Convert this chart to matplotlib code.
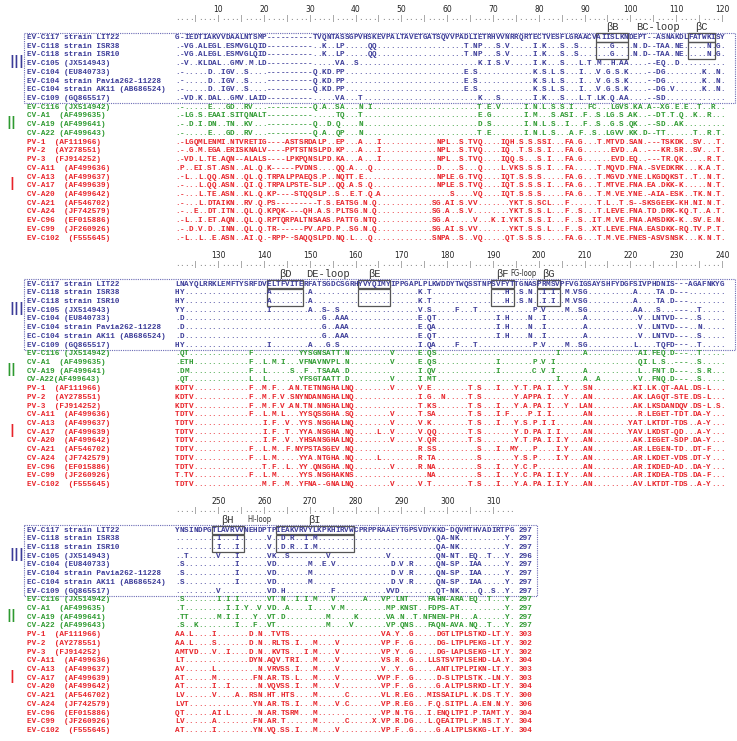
import matplotlib
matplotlib.use("Agg")
import matplotlib.pyplot as plt
from matplotlib.patches import Rectangle

# ---------------------------------------------------------------- data
names = [
    "EV-C117 strain LIT22",
    "EV-C118 strain ISR38",
    "EV-C118 strain ISR10",
    "EV-C105 (JX514943)",
    "EV-C104 (EU840733)",
    "EV-C104 strain Pavia262-11228",
    "EC-C104 strain AK11 (AB686524)",
    "EV-C109 (GQ865517)",
    "EV-C116 (JX514942)",
    "CV-A1  (AF499635)",
    "CV-A19 (AF499641)",
    "CV-A22 (AF499643)",
    "PV-1  (AF111966)",
    "PV-2  (AY278551)",
    "PV-3  (FJ914252)",
    "CV-A11  (AF499636)",
    "CV-A13  (AF499637)",
    "CV-A17  (AF499639)",
    "CV-A20  (AF499642)",
    "CV-A21  (AF546702)",
    "CV-A24  (JF742579)",
    "EV-C96  (EF015886)",
    "EV-C99  (JF260926)",
    "EV-C102  (F555645)",
]
names_block2 = names[:11] + ["CV-A22(AF499643)"] + names[12:]
groups = ["III"] * 8 + ["II"] * 4 + ["I"] * 12
group_colors = {"III": "#3b3b98", "II": "#2e9a30", "I": "#e8232a"}

# alignment, positions 1-120
block1 = [
    ("G-IEDTIAKVVDAALNTSMP" "----------" "TVQNTASSGPVHS"
     "KEVPALTAVETGATSQVVPADLIETRHVVNRRQRTECTVESFLGRAACV" "AIISLKN"
     "DEPT--ASNAKDL" "FATWKI" "SY"),
    (".-VG.ALEGL.ESMVGLQID" "----------" "..K..LP....." "QQ"
     ".........." "........." "T.NP" "..." "S.V" "....." "I.K" "..." "S" ".." "S"
     "......." "G" "...." "N.D" "--" "TAA.NE" "....." "N.G."),
    (".-VG.ALEGL.ESMVGLQID" "----------" "..K..LP....." "QQ"
     ".........." "........." "T.NP" "..." "S.V" "....." "I.K" "..." "S" ".." "S"
     "......." "G" "...." "N.D" "--" "TAA.NE" "....." "N.G."),
    (".-V..KLDAL..GMV.M.LD" "----------" ".....VA..S.."
     ".........." ".........." "...." "K.I.S.V" "....." "I.K" "..." "S" "..."
     "L.T.M..H.AA" "...." "--" "EQ..D" ".........."),
    (".-.....D..IGV..S...." "----------" "Q.KD.PP....."
     ".........." ".........." "." "E.S" ".........." ".." "K.S.L.S" "..." "I" "..."
     "V.G.S.K" "...." "--" "DG" "........" "K" ".." "N" "."),
    (".-.....D..IGV..S...." "----------" "Q.KD.PP....."
     ".........." ".........." "." "E.S" ".........." ".." "K.S.L.S" "..." "I" "..."
     "V.G.S.K" "...." "--" "DG" "........" "K" ".." "N" "."),
    (".-.....D..IGV..S...." "----------" "Q.KD.PP....."
     ".........." ".........." "." "E.S" ".........." ".." "K.S.L.S" "..." "I" "..."
     "V.G.S.K" "...." "--" "DG.V" "......" "K" ".." "N" "."),
    (".-VD.K.DAL..GMV.LAID" "----------" ".....VA...T."
     ".........." ".........." "...." "K...S" "......." "I.K" "..." "S" "..."
     "L.T.LK.Q.AA" "...." "--" "SD" ".........." "..."),
    (".-.....E...GD..RV..." "----------" "Q.A..SA...N." "I"
     ".........." ".........." "..." "T.E.V" "....." "I.N.L.S.S.I" "..." "FC" "..."
     "LGVS.KA.A" "--" "XG" ".E.E" ".." "T" ".." "R" ".."),
    (".-LG.S.EAAI.SITQNALT" "----------" ".....TQ...T."
     ".........." ".........." "...." "E.G" "......." "I.M" "..." "S.ASI" ".." "F" ".." "S" "."
     "LG.S.AK.." "--" "DT.T.Q" ".." "K" ".." "R" "..."),
    (".-.D.I.DN..TN..KV..." "----------" "Q..D.Q....N."
     ".........." ".........." "...." "D.S" "......." "I.N.L.S" ".." "I" "..." "F" ".." "S" ".."
     "G.S.QK.." "--" "SD" ".." "AK" "........."),
    (".-.....E...GD..RV..." "----------" "Q.A..QP...N."
     ".........." ".........." "...." "T.E" "......." "I.N.L.S" "..." "A" "." "F" ".." "S" ".."
     "LGVV.KK.D" "--" "TT" "......" "T" ".." "R" "." "T" "."),
    (".-LGQMLENMI.NTVRETIG" "----" "ASTSRDALP" ".." "EP" "..." "A" "."
     ".." "I" ".........." ".." "NPL" ".." "S.TVQ" "...." "IQH.S.S.SSI" "..." "FA.G" "..."
     "T.MTVD.SAN." "---" "TSKDK" ".." "SV" "..." "T" "."),
    (".-.G.M.EGA.ERISKNALV" "----" "PPTSTNSLPD" "." "KP" "..." "A" "."
     ".." "I" ".........." ".." "NPL" ".." "S.TVQ" "...." "IQ..T.S.S.I" "..." "FA.G" "......"
     "EVD" ".." "A" ".." "---" "KR.SR" ".." "SV" "..." "T" "."),
    (".-VD.L.TE.AQN--ALALS" "----" "LPKPQNSLPD" "." "KA" "..." "A" "."
     ".." "I" ".........." ".." "NPL" ".." "S.TVQ" "...." "IQQ.S...S.I" "..." "FA.G" "......"
     "EVD" "." "EQ" ".." "---" "TR.QK" "....." "R" "." "T" "."),
    (".P..EI.ST.ASN..AL.Q." "K" "-----" "PVDNS" "...." "QQ" "." "A" "..."
     "Q" ".........." "...." "D" "...." "S" "..." "Q" "...." "L.VKS.S.S.I" "..." "FA" "....."
     "T.MQVD.FNA." "-SVEDKRK" "..." "K" "." "A" "." "T" "."),
    (".-L..L.QQ.ASN..QL.Q." "TRPALPPAEQS" "." "P" ".." "NQTT" "." "E" "."
     ".........." "....." "NPLE.G.TVQ" "...." "IQT.S.S.S.." "..." "FA.G" "..."
     "T.MGVD.YNE." "LKGDQKST" ".." "T" ".." "N" "." "T" "."),
    (".-...L.QQ.ASN..QI.Q." "TRPALPSTE-SLP" ".." "QQ" "." "A" "." "S" "."
     "Q" ".........." "...." "NPLE.S.TVQ" "...." "IQT.S.S.S.I" "..." "FA.G" "..."
     "T.MTVE.FNA." "EA.DKK-K" "....." "N" "." "T" "."),
    (".-...L.TE.ASN..KL.Q." "KP----STQQSLP" ".." "S" ".." "E" "." "T" "."
     "Q" "." "A" ".........." "....." "S" "...." "VQ" "...." "IQT.S.S.S.." "..." "FA.G" "..."
     "T.M.VE.YNE." "-AIA-ESK" ".." "TK" "." "N" "." "T" "."),
    (".-...L.DTAIKN..RV.Q." "PS" "---------" "T" "." "S" "." "EATSG" "." "N"
     "." "Q" ".........." ".." "SG.AI.S.VV" "......." "YKT.S.SCL" "..." "F" "......"
     "T.L..T.S--SKSGEEK-KH.NI.N.T."),
    (".-..E..DT.ITN..QL.Q." "KPQK" "----" "QH" "." "A" "." "S" "." "PLTSG" "." "N"
     "." "Q" ".........." ".." "SG.A..S.V." "......." "YKT.S.S.L" "..." "F" ".." "S" "..."
     "T.LEVE.FNA.TD.DRK-KQ.T..A.T."),
    (".-L..I.ET.AQN..QL.Q." "RPTQRPALTNSAAS" "." "PATTG" "." "N"
     "TQ" ".........." ".." "SG.A" "....." "V" "..." "K.I.YKT.S.S.I" "..." "F" ".." "S" ".."
     "IT.M.VE.FNA.AMSDKK-K..SV.E.N."),
    (".-.D.V.D..INN..QL.Q." "TR" "------" "PV" "." "APD" "." "P" ".." "SG" "." "N"
     "." "Q" ".........." ".." "SG.AI.S.VV" "......." "YKT.S.S.L" "..." "F" ".." "S" ".."
     "XT.LEVE.FNA.EASDKK-RQ.TV.P.T."),
    (".-L..L..E.ASN..AI.Q." "-RPP--SAQQSLPD" "." "NQ" "." "L" "..."
     "Q" ".........." "..." "SNPA" ".." "S" ".." "VQ" "....." "QT.S.S.S" "....." "FA.G" "..."
     "T.M.VE.FNES-ASVSNSK...K.N.T."),
]

# alignment, positions 121-240
block2 = [
    ("LNAYQLRRKLEMFTYSRFDV" "ELTFVITE" "RFATSGDCSGRH" "YVYQIMY"
     "IPPGAPLPLKWDDYTWQSSTNP" "SVFYT" "TGNAS" "PRMSV"
     "PFVGIGSAYSHFYDGFSIVPHDNIS" "---" "AGAFNKYG"),
    ("HY" ".........." "........" "A" "........" "A" ".........." ".........." "..." "K.T"
     ".........." "......" "H" ".." "S.N" ".." "I.I" ".." "M.VSG" ".........." "A" "...."
     "TA.D" "---" "........"),
    ("HY" ".........." "........" "A" "........" "A" ".........." ".........." "..." "K.T"
     ".........." "......" "H" ".." "S.N" ".." "I.I" ".." "M.VSG" ".........." "A" "...."
     "TA.D" "---" "........"),
    ("YY" ".........." "........" "I" "........" "A..S-.S" ".........." "......." "V.S" "....."
     "F" "..." "T" ".........." ".." "P.V" "...." "M.." "SG" ".........." "AA" "..." "S" "..."
     "---" ".." "T" "....."),
    (".D" ".........." ".........." ".........." "G" ".." "AAA" ".........." "....." "E.QT"
     ".........." "..." "I.H" "...." "N" ".." "I" "........" "A" ".........." "." "V" ".."
     "LNTVD" "---" ".." "S" "....."),
    (".D" ".........." ".........." ".........." "G" ".." "AAA" ".........." "....." "E.QA"
     ".........." "..." "I.H" "...." "N" ".." "I" "........" "A" ".........." "." "V" ".."
     "LNTVD" "---" ".." "N" "....."),
    (".D" ".........." ".........." ".........." "G" ".." "AAA" ".........." "....." "E.QT"
     ".........." "..." "I.H" "...." "N" ".." "I" "........" "A" ".........." "." "V" ".."
     "LNTVD" "---" ".." "S" "....."),
    ("HY" ".........." "........" "I" "........" "A" "..." "G" "." "S" ".........." "......."
     "I.QA" "...." "F" "..." "T" ".........." ".." "P.V" "...." "M.." "SG" ".........." "L"
     "...." "TQFD" "---" ".." "T" "....."),
    (".QT" ".........." "..." "F" ".........." "YYSGNSATT" "." "N" "........." "V" "....."
     "E.QS" ".........." ".........." "......" "I" "....." "A" ".........." "."
     "AI.FEQ.D" "---" ".." "T" "....."),
    (".ETH" ".........." ".." "F" ".." "L.M.I" "..." "VFNAVNVPL" "." "N" "........." "V" "....."
     "E.QS" ".........." "..." "I" "......." "P.V.I" ".........." "........" "QI.L.S.."
     "---" ".." "S" "....."),
    (".DM" ".........." "..." "F" ".." "L" "....." "S" ".." "F" ".." "TSAAA" "." "D"
     ".........." "....." "I.QV" ".........." "..." "I" "......." "C.V.I" "......" "A"
     ".........." "." "L" ".." "FNT.D" "---" ".." "S" "." "R" "..."),
    (".QT" ".........." "..." "L" ".." "L" "......." "YFSGTAATT" "." "D" "........." "V" "....."
     "I.MT" ".........." ".........." "......" "I" "....." "A" ".." "A" "........" "V" ".."
     "FNQ.D" "---" ".." "S" "....."),
    ("KDTV" ".........." ".." "F" ".." "M.F" "..." "AN.TETNNGHALNQ" ".."
     "......" "V" "....." "V.E" "........" "T.S" "..." "I" "..." "Y.T.PA.I" "..." "Y" "..."
     "SN" "........." "KI" "." "LK.QT-AAL.DS-L" "..."),
    ("KDTV" ".........." ".." "F" ".." "M.F" "." "V.SNYNDANNGHALNQ" ".."
     ".........." ".." "I.G" ".." "N" "....." "T.S" "......." "Y.APPA.I" "..." "Y" "..."
     "AN" "........." "AK" "." "LAGQT-STE.DS-L" "..."),
    ("KDTV" ".........." ".." "F" ".." "M.F" "." "V.AN.TN.NNGHALNQ" ".."
     ".........." ".." "T.KS" "......." "T.S" "..." "I" "..." "Y.A.PA.I" "..." "Y" ".."
     "LAN" "........." "AK" "." "LKSDANDQV.DS-L" "." "S" "."),
    ("TDTV" ".........." ".." "F" ".." "L.M" "." "L" "..." "YYSQSSGHA.SQ" ".."
     "......" "V" "....." "T.SA" "......." "T.S" "..." "I.F" "...." "P" "." "I" "." "I"
     "......." "AN" ".........." "R" "." "LEGET-TDT.DA-Y" "..."),
    ("TDTV" ".........." "....." "I.F" ".." "V" ".." "YYS.NSGHALNQ" ".."
     "......" "V" "....." "V.K" "........" "T.S" "..." "I" "..." "Y.S.P.I.I" "......"
     "AN" "........" "YAT" "." "LKTDT-TDS..A-Y" "..."),
    ("TDTV" ".........." "....." "I.F" ".." "T" ".." "YYA.NSGHA.NQ" ".."
     "..." "L" ".." "V" "....." "V.QQ" "......." "T.S" "......." "Y.D.PA.I.I" "....."
     "AN" "........" "YAV" "." "LKDST-QD...A-Y" "..."),
    ("TDTV" ".........." "....." "I.F" ".." "V" ".." "YHSANSGHALNQ" ".."
     "......" "V" "....." "V.QR" "......." "T.S" "......." "Y.T.PA.I.I.Y" "..."
     "AN" "........." "AK" "." "IEGET-SDP.DA-Y" "..."),
    ("TDTV" ".........." ".." "F" ".." "L.M" ".." "F" "." "NYPSTASGEV.NQ" ".."
     ".........." ".." "R.SS" "........." "S" "..." "I" ".." "MY" "..." "P" "...." "I" "."
     "Y" "..." "AN" "........." "AR" "." "LEGEN-TD..DT-F" "..."),
    ("TDTV" ".........." ".." "F" ".." "L.M" "....." "YYA.NTGHA.NQ" ".."
     "..." "L" "........" "R.TA" "........." "S" "......." "Y.S.P" "...." "I" "." "Y" "..."
     "AN" "........." "AR" "." "LKDET-VDS.DT-Y" "..."),
    ("TDTV" ".........." "....." "T.F" ".." "L" ".." "YY.QNSGHA.NQ" ".."
     "......" "V" "....." "R.NA" "........." "S" "..." "I" "..." "Y.C.P" ".........."
     "AN" "........." "AR" "." "IKDED-AD..DA-Y" "..."),
    ("T.TV" ".........." ".." "F" ".." "L.M" "....." "YYS.NSGHAKNS" ".."
     ".........." "...." "NA" "........." "S" "..." "I" "..." "Y.C.PA.I.I.Y" "..."
     "AN" "........." "AR" "." "IKDEA-TDS.DA-F" "..."),
    ("TDTV" ".........." "....." "M.F" ".." "M" ".." "YFNA--GNALNQ" ".."
     "......" "V" "....." "V.T" "........" "T.S" "..." "I" "..." "Y.A.PA.I.I.Y" "..."
     "AN" "........." "AV" "." "LKTDT-TDS..A-Y" "..."),
]

# alignment, positions 241-314
block3 = [
    ("YNSINDPG" "TLAVRVV" "NEHDPTP" "IEAKVRVYLKPKHIRVW" "CPRPPRAAEYTGPSVDYKKD" "-DQVMTHVADIRTPG"),
    (".........I" "..." "I" "......" "V" ".." "D.R..I.M" ".........." ".........." "......"
     "QA-NK" ".........." "Y."),
    (".........I" "..." "I" "......" "V" ".." "D.R..I.M" ".........." ".........." "......"
     "QA-NK" ".........." "Y."),
    (".." "T" "......" "V" "..." "I" "......" "VK" ".." "S" "........" "V" ".........." ".."
     "V" ".........." "QN-NT..EQ..T" "..." "Y."),
    (".S" ".........." "." "I" "......" "VD" "......." "M" ".." "E" "." "V" ".........." ".."
     "D.V.R" "....." "QN-SP..IAA" "....." "Y."),
    (".S" ".........." "." "I" "......" "VD" "......." "M" ".........." "......."
     "D.V.R" "....." "QN-SP..IAA" "....." "Y."),
    (".S" ".........." "." "I" "......" "VD" "......." "M" ".........." "......."
     "D.V.R" "....." "QN-SP..IAA" "....." "Y."),
    ("........." "V" ".........." "VD.H" ".........." "F" ".........." "." "VVD" "........"
     "QT-NK" "...." "Q" ".." "S" ".." "Y."),
    (".S" "......." "I.I.I" "......" "VT.N" ".." "I.I.M" "..." "V" "......" "A" "..."
     "VP.LNT" "...." "FAHN-ARA.EQ..T" "..." "Y."),
    (".T" "........." "I.I" "." "Y" ".." "V.VD" ".." "A" "...." "I" "...." "V.M" "........."
     "MP.KNST" ".." "FDPS-AT" ".........." "Y."),
    (".TT" "......" "M.I.I" "..." "Y" ".." "VT.D" "........." "M" "....." "K" "......"
     "VA.N..T." "NFNEN-PH" "..." "A" "......" "Y."),
    (".S.." "K" "........" "I" "..." "F" ".." "VT" ".........." "." "M" "...." "V" "......."
     "VP.QNS" "..." "FAQN-AVA.NQ..T" "..." "Y."),
    ("AA.L" "...." "I" "......." "D.N..TVTS" ".........." ".........." "VA.Y" ".." "G" "....."
     "DGTLTPLSTKD-LT" "." "Y."),
    ("AA.L" "...." "S" "......." "D.N..RLTS.I" "..." "M" "...." "V" "........." "VP.F..G" "....."
     "DG-LTPLPEKG-LT" "." "Y."),
    ("AMTVD" "..." "V" ".." "I" "...." "D.N..KVTS" "..." "I" "." "M" "...." "V" "........."
     "VP.Y..G" "....." "DG-LAPLSEKG-LT" "." "Y."),
    ("LT" ".........." "...." "DYN.AQV.TRI" "..." "M" "...." "V" "........." "VS.R..G" "..."
     "LLSTSVTPLSEHD-LA" "." "Y."),
    ("AV" "......" "L" "........." "N.VRVSS.I" "..." "M" "...." "V" "........." "V..Y..G" "....."
     "ANTLTPLPIKN-LT" "." "Y."),
    ("AT" "......" "M" "........" "FN.AR.TS.L" "..." "M" "...." "V" "........" "VVP.F..G" "....."
     "D-SLTPLSTK.-LN" "." "Y."),
    ("AT" "......" "I" ".." "I" "......" "N.VQVSS.I" "..." "M" "...." "V" "........." "VP.F..G"
     "....." "G.ALTPLSRKD-LT" "." "Y."),
    ("LV" "......" "V" "...." "A" ".." "RSN.HT.HTS" "...." "M" "......" "C" "......." "VL.R.EG"
     "..." "MISSAILPL.K.DS.T" "." "Y."),
    ("LVT" ".........." "...." "YN.AR.TS.I" "..." "M" "...." "V" "." "C" "......." "VP.R.EG"
     "..." "F.Q.SITPL.A.EN.N" "." "Y."),
    ("QT" "......" "AI.L" "......" "N.AR.TSRM" "..." "M" ".........." "...." "VP.N.TG" "..."
     "I.ENQLTPI.P.TAMT" "." "Y."),
    ("LV" "......" "A" "........" "FN.AR.T" "......" "M" "......" "C" "....." "X" "." "VP.R.DG"
     "..." "L.QEAITPL.P.NS.T" "." "Y."),
    ("AT" "......" "I" "........" "YN.VQ.SS.I" "..." "M" "...." "V" "........." "VP.F..G" "....."
     "G.ALTPLSKKG-LT" "." "Y."),
]
block3_ends = [297, 297, 297, 296, 297, 297, 297, 297,
               297, 297, 297, 297,
               303, 302, 302, 304, 303, 303, 304, 300, 306, 304, 304, 304]

blocks = [block1, block2, block3]
block_names = [names, names_block2, names]
block_offsets = [0, 120, 240]
block_widths = [120, 120, 74]

# secondary structure: (block, label, first column, last column)
strands = [(0, "βB", 93, 99), (0, "βC", 113, 118),
           (1, "βD", 21, 28), (1, "βE", 41, 47), (1, "βF", 70, 74), (1, "βG", 80, 84),
           (2, "βH", 9, 15), (2, "βI", 23, 39)]
# loops: (block, label, centre column)
loops = [(0, "BC-loop", 106), (1, "DE-loop", 34), (1, "FG-loop", 76.5), (2, "HI-loop", 19)]

# ---------------------------------------------------------------- layout
MONO = "Liberation Mono"
FS = 5.5
CW = 4.58            # width of one alignment column (px)
X0 = 175             # left edge of column 1
ROW_H = 8.72
TOPS = [37.5, 284, 530]
BOX_RIGHT = [735, 735, 537]


def colx(c):
    return X0 + (c - 0.5) * CW


fig = plt.figure(figsize=(7.37, 7.41), dpi=100)
ax = fig.add_axes([0, 0, 1, 1])
ax.set_xlim(0, 737)
ax.set_ylim(741, 0)
ax.axis("off")

for b, rows in enumerate(blocks):
    top = TOPS[b]
    width = block_widths[b]

    # ruler
    for c in range(1, width + 1):
        ax.text(colx(c), top - 19, "|" if c % 5 == 0 else ".", ha="center", va="center",
                family=MONO, fontsize=FS, color="#7a7a7a")
        if c % 10 == 0:
            ax.text(colx(c), top - 28, str(block_offsets[b] + c), ha="center", va="center",
                    family="DejaVu Sans", fontsize=5.5, color="#222222")

    # sequences
    for i, (name, grp, seq) in enumerate(zip(block_names[b], groups, rows)):
        y = top + i * ROW_H
        color = group_colors[grp]
        seq = seq[:width].ljust(width, ".")
        ax.text(27, y, name, ha="left", va="center", family=MONO, fontsize=FS,
                color=color, fontweight="bold")
        for j, ch in enumerate(seq):
            ax.text(colx(j + 1), y, ch, ha="center", va="center", family=MONO,
                    fontsize=FS, color=color, fontweight="bold")
        if b == 2:
            ax.text(X0 + (width + 1) * CW, y, str(block3_ends[i]), ha="left", va="center",
                    family=MONO, fontsize=FS, color=color, fontweight="bold")

    # dotted frame round group III
    y_a = top - 5
    y_b = top + 7 * ROW_H + 4.5
    ax.add_patch(Rectangle((24, y_a), BOX_RIGHT[b] - 24, y_b - y_a, fill=False,
                           ec="#6b6bb5", lw=0.8, ls=(0, (1, 1))))

    # group labels
    ax.text(17, top + 3 * ROW_H, "III", ha="center", va="center", family="Liberation Sans",
            fontsize=13, color=group_colors["III"])
    ax.text(11, top + 10 * ROW_H, "II", ha="center", va="center", family="Liberation Sans",
            fontsize=13, color=group_colors["II"])
    ax.text(12, top + 17 * ROW_H, "I", ha="center", va="center", family="Liberation Sans",
            fontsize=13, color=group_colors["I"])

for b, label, c1, c2 in strands:
    top = TOPS[b]
    x_left = X0 + (c1 - 1) * CW
    w = (c2 - c1 + 1) * CW
    ax.add_patch(Rectangle((x_left, top - 4.5), w, 8.6, fill=False, ec="#555555", lw=0.9))
    ax.add_patch(Rectangle((x_left, top + ROW_H - 4.0), w, ROW_H + 8.4, fill=False,
                           ec="#555555", lw=0.9))
    ax.text(X0 + (c1 + c2 - 1) / 2 * CW, top - 10, label, ha="center", va="center",
            family=MONO, fontsize=7.5, color="#333333")

for b, label, c in loops:
    narrow = label in ("FG-loop", "HI-loop")
    ax.text(colx(c), TOPS[b] - 10, label, ha="center", va="center",
            family="DejaVu Sans" if narrow else MONO,
            fontsize=5.5 if narrow else 7.5, color="#333333",
            fontstretch="condensed")

fig.savefig("out.png", dpi=100)
